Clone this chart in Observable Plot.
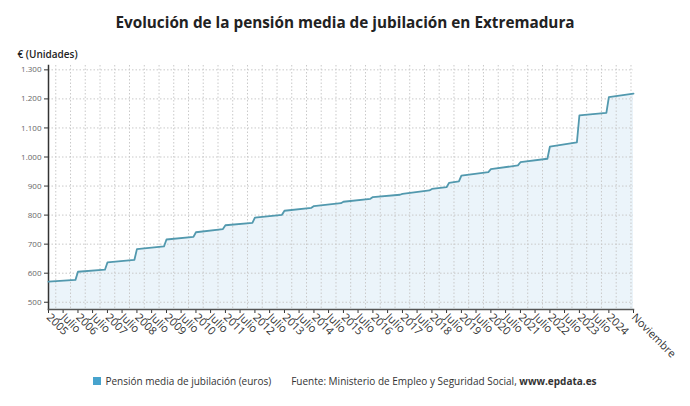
<!DOCTYPE html>
<html>
<head>
<meta charset="utf-8">
<script src="https://cdn.jsdelivr.net/npm/d3@7"></script>
<script src="https://cdn.jsdelivr.net/npm/@observablehq/plot@0.6"></script>
<style>
  html, body { margin: 0; padding: 0; background: #fff; }
  body { width: 690px; height: 406px; overflow: hidden; font-family: "Open Sans", sans-serif; }
  #title { height: 38px; box-sizing: border-box; padding-top: 11px; line-height: 22px; text-align: center; font-weight: 700; font-size: 15.3px; color: #222; }
  #legend { height: 26px; line-height: 26px; text-align: center; font-size: 10px; color: #333; white-space: nowrap; }
  #legend .sw { display: inline-block; width: 8px; height: 8px; background: #47a3cd; margin-right: 4px; vertical-align: 0px; }
  #legend .src { margin-left: 20px; }
</style>
</head>
<body>
<div id="title">Evolución de la pensión media de jubilación en Extremadura</div>
<div id="chart"></div>
<div id="legend"><span class="sw"></span>Pensión media de jubilación (euros)<span class="src">Fuente: Ministerio de Empleo y Seguridad Social, <b>www.epdata.es</b></span></div>
<script>
const months = [
  "2005-01","2005-12","2006-01","2006-12","2007-01","2007-12","2008-01","2008-12",
  "2009-01","2009-12","2010-01","2010-12","2011-01","2011-12","2012-01","2012-12",
  "2013-01","2013-12","2014-01","2014-12","2015-01","2015-12","2016-01","2016-12",
  "2017-01","2017-12","2018-01","2018-07","2018-08","2018-12","2019-01","2019-12",
  "2020-01","2020-12","2021-01","2021-12","2022-01","2022-12","2023-01","2023-12",
  "2024-01","2024-11"
];
const pension = [
  571, 577, 605, 612, 637, 646, 683, 692,
  716, 725, 741, 752, 765, 773, 791, 801,
  815, 825, 831, 841, 846, 856, 862, 870,
  873, 885, 890, 896, 911, 916, 936, 948,
  958, 971, 982, 994, 1036, 1050, 1143, 1152,
  1206, 1218
];
const yTicks = [500, 600, 700, 800, 900, 1000, 1100, 1200, 1300];
const years = d3.range(2005, 2025);
const lastLabel = "Noviembre";
const midLabel = "Julio";
const yLabel = "€ (Unidades)";

const parse = d3.utcParse("%Y-%m");
const data = months.map((m, i) => ({date: parse(m), value: pension[i]}));
const start = data[0].date, end = data[data.length - 1].date;

const tickDates = [];
years.forEach(y => {
  tickDates.push(new Date(Date.UTC(y, 0, 1)));
  const jul = new Date(Date.UTC(y, 6, 1));
  if (jul < end && d3.utcMonth.count(jul, end) > 5) tickDates.push(jul);
});
tickDates.push(end);
const gridDates = [];
years.forEach(y => { gridDates.push(new Date(Date.UTC(y, 3, 1))); gridDates.push(new Date(Date.UTC(y, 9, 1))); });

const fmtTick = d => {
  if (+d === +end) return lastLabel;
  return d.getUTCMonth() === 0 ? String(d.getUTCFullYear()) : midLabel;
};
const fmtY = d => d3.format(",")(d).replace(/,/g, ".");

const lineColor = "#5299ae";
const yMin = 475, yMax = 1315;

const chart = Plot.plot({
  width: 690,
  height: 330,
  marginLeft: 48,
  marginRight: 57,
  marginTop: 27,
  marginBottom: 59,
  style: {fontFamily: "'Open Sans', sans-serif", background: "transparent", overflow: "visible"},
  x: {type: "utc", domain: [start, end]},
  y: {domain: [yMin, yMax]},
  marks: [
    Plot.areaY(data, {x: "date", y1: yMin, y2: "value", fill: "#e9f3f9", fillOpacity: 0.9}),
    Plot.gridY(yTicks, {stroke: "#c9c9c9", strokeOpacity: 1, strokeDasharray: "1.5,2", strokeWidth: 1}),
    Plot.ruleX(gridDates, {stroke: "#c9c9c9", strokeOpacity: 1, strokeDasharray: "1.5,2", strokeWidth: 1}),
    Plot.axisY(yTicks, {tickFormat: fmtY, tickSize: 4, tickPadding: 3, fontSize: 8, fill: "#666", stroke: "#333", label: null}),
    Plot.axisX(tickDates, {tickFormat: fmtTick, tickSize: 4, tickPadding: 2, tickRotate: 45, fontSize: 11, fill: "#333", stroke: "#333", label: null}),
    Plot.frame({anchor: "left", stroke: "#333", strokeWidth: 1.5}),
    Plot.frame({anchor: "bottom", stroke: "#555", strokeWidth: 1.5}),
    Plot.line(data, {x: "date", y: "value", stroke: lineColor, strokeWidth: 1.8}),
    Plot.text([yLabel], {frameAnchor: "top-left", dx: -31, dy: -15, text: d => d, textAnchor: "start", fontSize: 10, fontWeight: 600, fill: "#222"})
  ]
});
document.getElementById("chart").appendChild(chart);
</script>
</body>
</html>
